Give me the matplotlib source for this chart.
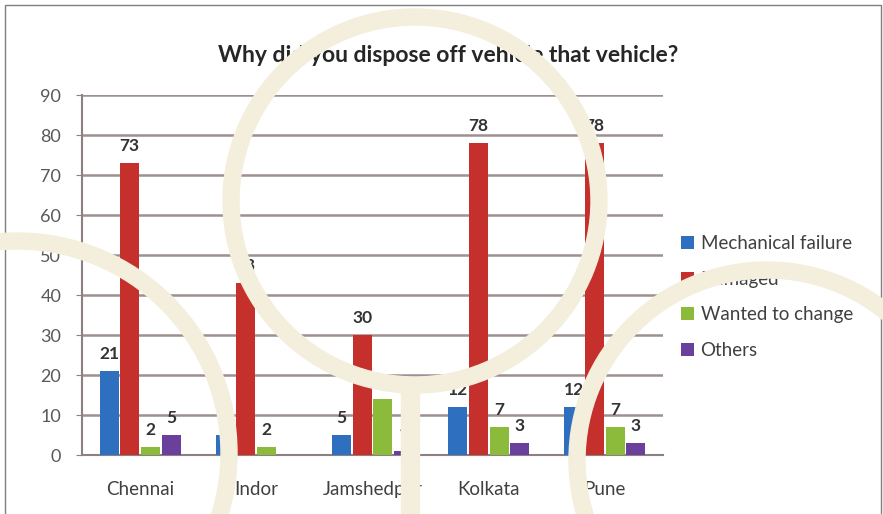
import numpy as np
import matplotlib
matplotlib.use("Agg")
import matplotlib.pyplot as plt
from matplotlib.patches import Annulus, Rectangle

plt.rcParams['font.family'] = ['Lato', 'DejaVu Sans']

cities = ["Chennai", "Indor", "Jamshedpur", "Kolkata", "Pune"]
reasons = ["Mechanical failure", "Damaged", "Wanted to change", "Others"]
mechanical = [21, 5, 5, 12, 12]
damaged = [73, 43, 30, 78, 78]
wanted = [2, 2, 14, 7, 7]
others = [5, 0, 1, 3, 3]
yticks = [0, 10, 20, 30, 40, 50, 60, 70, 80, 90]

colors = ["#2f6fbf", "#c5302c", "#8cbb3c", "#6b3f9c"]
series = [mechanical, damaged, wanted, others]

fig = plt.figure(figsize=(8.83, 5.14), dpi=100)
ax = fig.add_axes([82/883, 1-455/514, 581/883, 360/514])

x = np.arange(len(cities))
slot = 0.178
for i, (vals, col) in enumerate(zip(series, colors)):
    pos = x + (i - 1.5) * slot
    bars = ax.bar(pos, vals, width=slot*0.92, color=col, label=reasons[i], zorder=3)
    for b, v in zip(bars, vals):
        if v == 0:
            continue
        ax.text(b.get_x() + b.get_width()/2, v + 2.2, str(v), ha='center', va='bottom',
                fontsize=12.5, fontweight='bold', color='#333333', zorder=4)

ax.set_xlim(-0.5, len(cities) - 0.5)
ax.set_ylim(0, 90)
ax.set_yticks(yticks)
ax.set_xticks(x)
ax.set_xticklabels(cities, fontsize=13.5, color='#404040')
ax.tick_params(axis='y', labelsize=13, labelcolor='#595959', length=4, color='#8c8080', pad=11)
ax.tick_params(axis='x', length=0, pad=19)
ax.grid(axis='y', color='#9e9090', linewidth=1.8, zorder=0)
for s in ['top', 'right']:
    ax.spines[s].set_visible(False)
ax.spines['left'].set_color('#8c8080')
ax.spines['bottom'].set_color('#8c8080')
ax.spines['left'].set_linewidth(1.5)
ax.spines['bottom'].set_linewidth(1.5)

fig.text(448/883, 1-55/514, "Why did you dispose off vehicle that vehicle?", ha='center', va='center',
         fontsize=16.5, fontweight='bold', color='#262626')

ax.legend(loc='upper left', bbox_to_anchor=(664/883, 1-218/514), bbox_transform=fig.transFigure,
          frameon=False, fontsize=13.5, labelcolor='#404040', handlelength=0.7, handleheight=0.7,
          handletextpad=0.35, labelspacing=1.0)

# decorative overlay: frame and cream rings
ov = fig.add_axes([0, 0, 1, 1], zorder=10)
ov.set_xlim(0, 883)
ov.set_ylim(514, 0)
ov.axis('off')
ov.patch.set_alpha(0)
ring = '#f4efdc'
ov.add_patch(Rectangle((5, 5), 876, 520, fill=False, edgecolor='#7f7f7f', linewidth=1))
ov.add_patch(Annulus((415, 201), 192, 16, color=ring))
ov.add_patch(Annulus((17, 453), 220, 16, color=ring))
ov.add_patch(Annulus((767, 460), 198, 16, color=ring))
ov.add_patch(Rectangle((401, 385), 18, 140, color=ring))

fig.savefig("out.png", dpi=100)
